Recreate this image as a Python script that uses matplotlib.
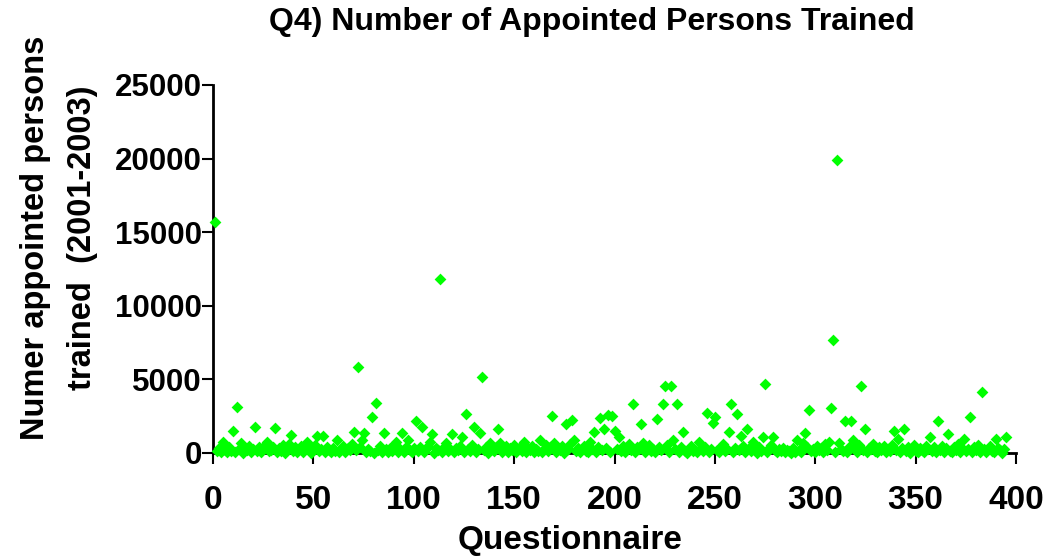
import numpy as np
import matplotlib
matplotlib.use("Agg")
import matplotlib.pyplot as plt

plt.rcParams['font.family'] = ['Liberation Sans', 'DejaVu Sans']

title = "Q4) Number of Appointed Persons Trained"
x_label = "Questionnaire"
y_label = "Numer appointed persons\ntrained  (2001-2003)"
x_ticks = [0, 50, 100, 150, 200, 250, 300, 350, 400]
y_ticks = [0, 5000, 10000, 15000, 20000, 25000]

# Number of appointed persons trained, questionnaire 1..395
values = [
    15700, 120, 350, 60, 770, 210, 40, 420, 150, 1510, 90, 3100, 260, 660, 30, 310, 180, 480, 70, 240,
    1750, 130, 380, 50, 290, 560, 770, 110, 200, 430, 1680, 80, 340, 160, 520, 20, 270, 600, 1220, 140,
    390, 60, 250, 470, 100, 310, 770, 190, 30, 360, 540, 1150, 120, 280, 1150, 70, 420, 210, 50, 330,
    150, 880, 40, 260, 500, 90, 370, 180, 620, 1450, 230, 5860, 410, 880, 1340, 60, 300, 140, 2420, 30,
    3420, 190, 450, 80, 1340, 270, 40, 350, 160, 510, 770, 100, 290, 1340, 60, 400, 880, 220, 50, 330,
    2190, 140, 380, 1790, 70, 250, 460, 770, 1290, 30, 320, 180, 11820, 90, 400, 700, 150, 260, 1290, 50,
    370, 210, 480, 1110, 80, 2650, 300, 140, 520, 1790, 60, 240, 1340, 5140, 170, 420, 30, 660, 290, 110,
    380, 1610, 660, 90, 250, 470, 40, 330, 180, 560, 70, 280, 420, 130, 770, 50, 350, 210, 490, 80,
    300, 160, 880, 40, 270, 530, 110, 390, 2510, 700, 60, 320, 190, 450, 30, 1970, 240, 580, 2240, 880,
    120, 360, 70, 290, 500, 150, 40, 770, 260, 1450, 90, 410, 2360, 200, 1610, 340, 2580, 60, 2510, 1510,
    280, 1070, 130, 450, 50, 310, 620, 180, 3330, 90, 380, 240, 1970, 700, 40, 330, 510, 150, 270, 60,
    2290, 420, 190, 3330, 4550, 560, 100, 4550, 880, 250, 3330, 70, 380, 1450, 160, 30, 300, 470, 120, 220,
    50, 770, 350, 140, 430, 2700, 80, 260, 2020, 2470, 190, 40, 390, 600, 110, 280, 1450, 3330, 70, 340,
    2650, 200, 1150, 460, 50, 1610, 310, 130, 770, 240, 30, 420, 160, 1110, 4690, 80, 350, 520, 1070, 190,
    40, 280, 110, 360, 60, 230, 150, 30, 320, 90, 880, 200, 50, 700, 1380, 410, 2920, 130, 270, 60,
    480, 180, 340, 40, 590, 220, 770, 3040, 7670, 100, 19900, 700, 300, 150, 2170, 60, 420, 2170, 880, 240,
    90, 510, 4550, 170, 1610, 50, 330, 260, 620, 120, 40, 380, 210, 470, 70, 300, 150, 560, 1510, 200,
    930, 60, 350, 1610, 110, 420, 30, 250, 510, 140, 80, 330, 190, 40, 460, 270, 1070, 120, 380, 60,
    2170, 230, 500, 90, 310, 1290, 160, 40, 420, 210, 600, 70, 340, 930, 130, 260, 2470, 50, 390, 180,
    520, 100, 4160, 300, 40, 240, 450, 150, 70, 930, 360, 200, 30, 280, 1110,
]
questionnaire = np.arange(1, len(values) + 1)

fig = plt.figure(figsize=(10.53, 5.6), dpi=100)
ax = fig.add_axes([213 / 1053, 1 - 453 / 560, (1016 - 213) / 1053, (453 - 85) / 560])

ax.scatter(questionnaire, values, marker='D', s=36, color='#00ff00',
           linewidths=0, clip_on=False, zorder=3)

ax.set_xlim(0, 400)
ax.set_ylim(0, 25000)
ax.set_xticks(x_ticks)
ax.set_yticks(y_ticks)
ax.set_xticklabels([str(t) for t in x_ticks], fontsize=24, fontweight='bold')
ax.set_yticklabels([str(t) for t in y_ticks], fontsize=22.5, fontweight='bold')

for s in ['top', 'right']:
    ax.spines[s].set_visible(False)
for s in ['left', 'bottom']:
    ax.spines[s].set_linewidth(2)
    ax.spines[s].set_color('black')

ax.tick_params(axis='both', direction='out', length=8, width=1.5, color='black')
ax.tick_params(axis='x', pad=15)
ax.tick_params(axis='y', pad=0)

fig.text(592 / 1053, 1 - 22 / 560, title, ha='center', va='center',
         fontsize=23, fontweight='bold')
fig.text(570 / 1053, 1 - 540 / 560, x_label, ha='center', va='center',
         fontsize=24, fontweight='bold')
fig.text(59 / 1053, 1 - 238 / 560, y_label, ha='center', va='center',
         rotation=90, multialignment='center', fontsize=23.5, fontweight='bold',
         linespacing=1.7)

fig.savefig('out.png', dpi=100)
